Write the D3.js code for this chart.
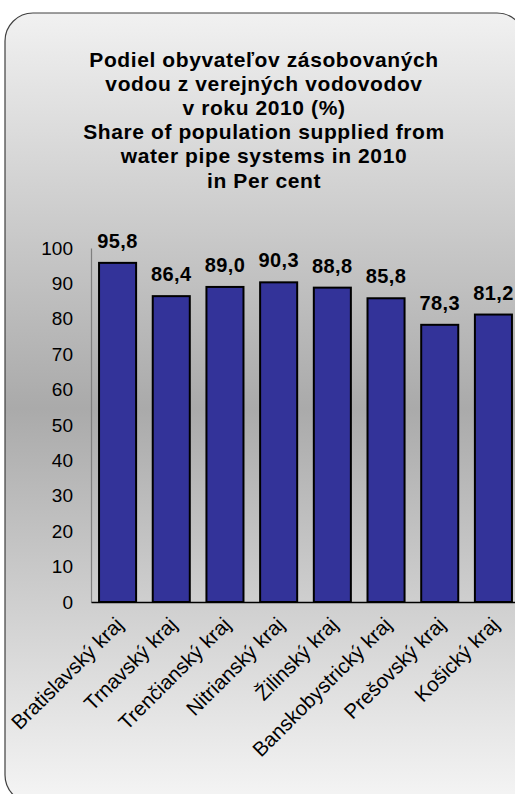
<!DOCTYPE html>
<html>
<head>
<meta charset="utf-8">
<script src="https://cdn.jsdelivr.net/npm/d3@7"></script>
<style>
html,body{margin:0;padding:0;background:#fff;}
svg{display:block;}
text{font-family:"Liberation Sans", Arial, sans-serif;}
</style>
</head>
<body>
<svg id="chart" width="515" height="794"></svg>
<script>
const categories = ["Bratislavský kraj","Trnavský kraj","Trenčianský kraj","Nitrianský kraj","Žilinský kraj","Banskobystrický kraj","Prešovský kraj","Košický kraj"];
const values = [95.8, 86.4, 89.0, 90.3, 88.8, 85.8, 78.3, 81.2];
const yTicks = [0,10,20,30,40,50,60,70,80,90,100];
const titleLines = ["Podiel obyvateľov zásobovaných","vodou z verejných vodovodov","v roku 2010 (%)","Share of population supplied from","water pipe systems in 2010","in Per cent"];

const svg = d3.select("#chart");
const defs = svg.append("defs");
const grad = defs.append("linearGradient").attr("id","bg").attr("x1",0).attr("y1",0).attr("x2",0).attr("y2",1);
grad.append("stop").attr("offset","0%").attr("stop-color","#f1f1f1");
grad.append("stop").attr("offset","50%").attr("stop-color","#aaaaaa");
grad.append("stop").attr("offset","100%").attr("stop-color","#f5f5f5");

svg.append("rect").attr("x",5).attr("y",13).attr("width",520).attr("height",790)
  .attr("rx",28).attr("ry",28).attr("fill","url(#bg)").attr("stroke","#404040").attr("stroke-width",1.2);

// title
const title = svg.append("text").attr("text-anchor","middle").attr("font-weight","bold")
  .attr("font-size",21).attr("letter-spacing",0.6).attr("fill","#000");
titleLines.forEach((t,i)=>{
  title.append("tspan").attr("x",264).attr("y",66.5+i*24.2).text(t);
});

const x = d3.scaleBand().domain(categories).range([91,520]).paddingInner(0.31).paddingOuter(0.15);
const y = d3.scaleLinear().domain([0,100]).range([602,248]);

// y axis
const yAxis = svg.append("g").attr("transform","translate(91,0)")
  .call(d3.axisLeft(y).tickValues(yTicks).tickSize(0).tickPadding(18));
yAxis.select(".domain").attr("stroke","#7f7f7f").attr("stroke-width",1.2);
yAxis.selectAll("text").attr("font-size",19).attr("fill","#000").attr("font-family","Liberation Sans, Arial, sans-serif");

// bars
svg.append("g").selectAll("rect").data(values).join("rect")
  .attr("x",(d,i)=>x(categories[i]))
  .attr("y",d=>y(d))
  .attr("width",x.bandwidth())
  .attr("height",d=>y(0)-y(d))
  .attr("fill","#333399").attr("stroke","#000").attr("stroke-width",2);

// x axis
const xAxis = svg.append("g").attr("transform","translate(0,602)")
  .call(d3.axisBottom(x).tickSize(0).tickFormat(""));
xAxis.select(".domain").attr("stroke","#000").attr("stroke-width",1.5);

// value labels
svg.append("g").selectAll("text").data(values).join("text")
  .attr("x",(d,i)=>x(categories[i])+x.bandwidth()/2)
  .attr("y",d=>y(d)-15)
  .attr("text-anchor","middle").attr("font-weight","bold").attr("font-size",20)
  .attr("letter-spacing",0.4)
  .text(d=>d3.format(".1f")(d).replace(".",","));

// category labels
svg.append("g").selectAll("text").data(categories).join("text")
  .attr("transform",d=>`translate(${x(d)+x.bandwidth()/2+7},${626}) rotate(-45)`)
  .attr("text-anchor","end").attr("font-size",20.5).attr("fill","#000")
  .text(d=>d);
</script>
</body>
</html>
